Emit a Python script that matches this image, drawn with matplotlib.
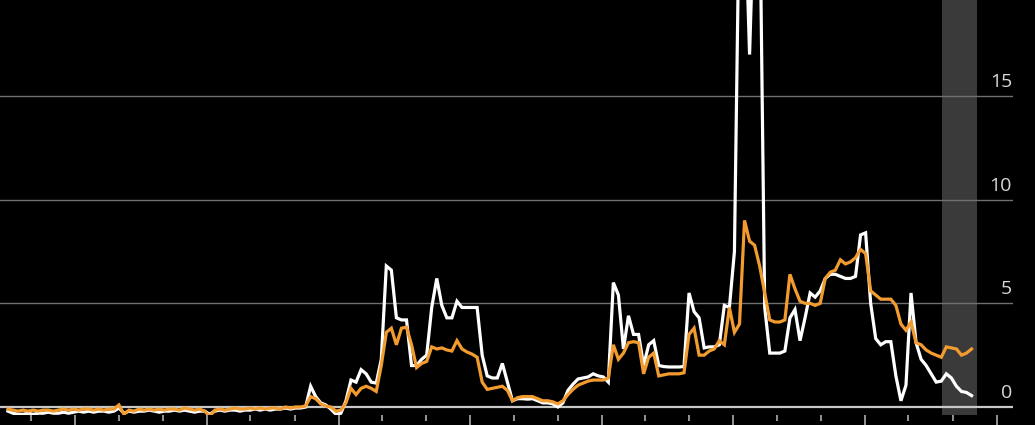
import numpy as np
import pandas as pd
import matplotlib
matplotlib.use("Agg")
import matplotlib.pyplot as plt
import matplotlib.dates as mdates

# fortnightly readings, two series
dates = pd.date_range("2014-06-28", periods=192, freq="14D")

white_vals = [
    -0.2, -0.3, -0.35, -0.35, -0.3, -0.35, -0.3, -0.3, -0.25, -0.3,
    -0.3, -0.25, -0.3, -0.25, -0.2, -0.25, -0.2, -0.25, -0.2, -0.2,
    -0.25, -0.2, -0.05, -0.3, -0.2, -0.25, -0.2, -0.2, -0.15, -0.2,
    -0.25, -0.2, -0.2, -0.15, -0.2, -0.15, -0.2, -0.25, -0.2, -0.2,
    -0.35, -0.2, -0.15, -0.2, -0.15, -0.15, -0.2, -0.15, -0.15, -0.1,
    -0.15, -0.1, -0.15, -0.1, -0.1, -0.05, -0.1, -0.05, -0.05, 0.0,
    1.0, 0.5, 0.2, 0.1, -0.1, -0.35, -0.3, 0.3, 1.3, 1.2,
    1.8, 1.6, 1.2, 1.15, 2.3, 6.8, 6.6, 4.3, 4.2, 4.2,
    2.0, 2.0, 2.3, 2.5, 4.8, 6.2, 4.9, 4.3, 4.3, 5.1,
    4.8, 4.8, 4.8, 4.8, 2.5, 1.5, 1.4, 1.4, 2.1, 1.2,
    0.3, 0.4, 0.4, 0.38, 0.4, 0.3, 0.2, 0.2, 0.15, 0.0,
    0.2, 0.8, 1.1, 1.35, 1.4, 1.45, 1.6, 1.5, 1.45, 1.2,
    6.0, 5.4, 2.8, 4.4, 3.5, 3.5, 2.0, 3.0, 3.2, 2.0,
    1.95, 1.93, 1.93, 1.93, 1.95, 5.5, 4.6, 4.3, 2.85, 2.9,
    2.9, 3.0, 4.9, 4.8, 7.5, 25.0, 25.0, 17.0, 25.0, 25.0,
    4.8, 2.6, 2.6, 2.6, 2.7, 4.3, 4.7, 3.2, 4.3, 5.5,
    5.3, 5.6, 6.2, 6.4, 6.4, 6.3, 6.2, 6.2, 6.3, 8.3,
    8.4, 5.0, 3.3, 3.0, 3.15, 3.15, 1.5, 0.3, 1.05, 5.5,
    3.1, 2.3, 2.0, 1.6, 1.2, 1.25, 1.6, 1.4, 1.0, 0.75,
    0.7, 0.55,
]

orange_vals = [
    -0.1, -0.15, -0.2, -0.15, -0.2, -0.15, -0.2, -0.15, -0.15, -0.2,
    -0.15, -0.1, -0.15, -0.1, -0.15, -0.1, -0.1, -0.15, -0.1, -0.15,
    -0.1, -0.1, 0.1, -0.35, -0.15, -0.2, -0.1, -0.15, -0.1, -0.15,
    -0.1, -0.15, -0.1, -0.1, -0.15, -0.05, -0.1, -0.15, -0.1, -0.2,
    -0.45, -0.15, -0.1, -0.15, -0.1, -0.05, -0.1, -0.1, -0.05, -0.1,
    -0.05, -0.1, -0.05, -0.05, -0.1, 0.0, -0.05, 0.0, 0.0, 0.05,
    0.5, 0.4, 0.15, 0.05, 0.0, -0.2, -0.15, 0.2, 0.9, 0.6,
    0.9, 1.0, 0.9, 0.75, 2.0, 3.6, 3.8, 3.0, 3.8, 3.85,
    3.0, 1.9, 2.1, 2.2, 2.9, 2.8, 2.85, 2.75, 2.7, 3.2,
    2.8, 2.65, 2.55, 2.4, 1.2, 0.85, 0.9, 0.95, 1.0, 0.8,
    0.3, 0.45, 0.5, 0.5, 0.5, 0.4, 0.3, 0.3, 0.25, 0.15,
    0.3, 0.6, 0.85, 1.05, 1.15, 1.25, 1.3, 1.3, 1.3, 1.4,
    3.0, 2.3, 2.6, 3.1, 3.15, 3.1, 1.6, 2.4, 2.6, 1.5,
    1.55, 1.6, 1.6, 1.6, 1.65, 3.5, 3.8, 2.5, 2.5, 2.7,
    2.8, 3.2, 3.0, 4.8, 3.6, 4.0, 9.0, 8.0, 7.8, 6.8,
    5.5, 4.2, 4.1, 4.1, 4.2, 6.4, 5.7, 5.1, 5.0, 5.0,
    4.9, 5.0, 6.2, 6.5, 6.6, 7.1, 6.9, 7.0, 7.2, 7.6,
    7.4, 5.6, 5.4, 5.2, 5.2, 5.2, 4.9, 4.0, 3.7, 4.1,
    3.1, 3.0, 2.75, 2.6, 2.5, 2.4, 2.9, 2.85, 2.8, 2.5,
    2.6, 2.8,
]

y_ticks = [0, 5, 10, 15]
band_start, band_end = "2021-08-03", "2021-11-07"

fig = plt.figure(figsize=(10.35, 4.25), dpi=100, facecolor="black")
ax = fig.add_axes([0, 10 / 425, 1013 / 1035, 415 / 425])
ax.set_facecolor("black")

ax.axvspan(pd.Timestamp(band_start), pd.Timestamp(band_end), color="#3a3a3a", lw=0, zorder=0)

for v in y_ticks:
    if v == 0:
        ax.axhline(v, color="#c8c8c8", lw=1.6, zorder=1)
    else:
        ax.axhline(v, color="#707070", lw=1.0, zorder=1)
    ax.text(0.999, v + 0.43, str(v), transform=ax.get_yaxis_transform(),
            ha="right", va="baseline", color="#d8d8d8", fontsize=14,
            family="Open Sans")

ax.plot(dates, white_vals, color="white", lw=2.3, zorder=3, solid_joinstyle="miter")
ax.plot(dates, orange_vals, color="#f29b2e", lw=2.3, zorder=4, solid_joinstyle="miter")

ax.set_ylim(-0.386, 19.63)
ax.set_xlim(pd.Timestamp("2014-06-06"), pd.Timestamp("2022-02-15"))

ax.xaxis.set_major_locator(mdates.MonthLocator(bymonth=[1]))
ax.xaxis.set_minor_locator(mdates.MonthLocator(bymonth=[5, 9]))
ax.tick_params(axis="x", which="major", length=7, width=1.1, color="#bbbbbb",
               labelbottom=False)
ax.tick_params(axis="x", which="minor", length=4.3, width=1.1, color="#bbbbbb")
ax.set_yticks([])
for s in ax.spines.values():
    s.set_visible(False)

fig.savefig("out.png", dpi=100, facecolor="black")
